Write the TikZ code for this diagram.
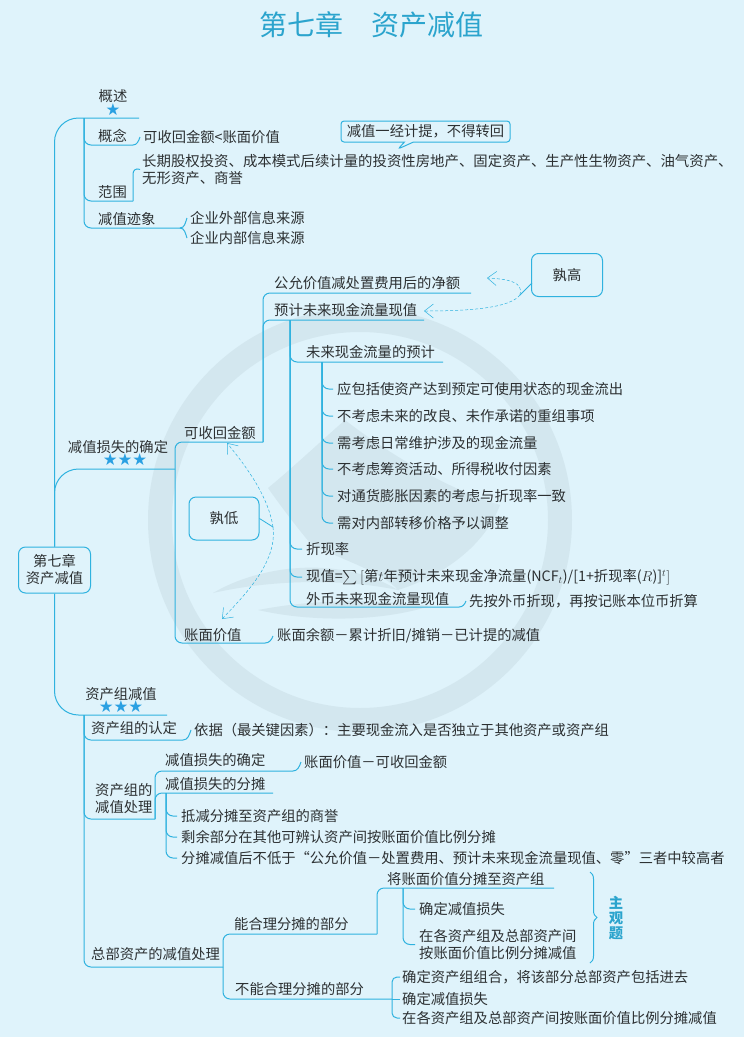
\documentclass[tikz,border=0pt]{standalone}
\usepackage{amssymb}
\usepackage{fontspec}
\setmainfont{Noto Sans CJK SC}
\newfontfamily\starfont{DejaVu Sans}
\usetikzlibrary{arrows.meta,shapes.callouts,decorations.pathreplacing}
\definecolor{bgblue}{HTML}{DFF3FB}
\definecolor{markblue}{HTML}{D3E7EF}
\definecolor{railblue}{HTML}{2FB2DF}
\definecolor{inkgray}{HTML}{2C3032}
\tikzset{
  txt/.style={anchor=west,inner sep=1pt,text=inkgray,font=\fontsize{14.3}{17}\selectfont,align=left},
  stars/.style={inner sep=0pt,text=railblue!90!blue,font=\starfont\fontsize{16.5}{17}\selectfont},
  rail/.style={draw=railblue,line width=1pt},
  railbend/.style={rail,rounded corners=7pt},
  mainbend/.style={rail,rounded corners=24pt},
  box/.style={draw=railblue,line width=1pt,rounded corners=7pt,fill=bgblue,inner sep=0pt,text=inkgray,
    font=\fontsize{14.3}{17}\selectfont,align=center},
  hint/.style={draw=railblue,line width=0.5pt,densely dashed,-{Straight Barb[length=9pt,width=14pt]}}
}
\begin{document}
\begin{tikzpicture}[x=1pt,y=-1pt]
\useasboundingbox (0,0) rectangle (744,1037);
\fill[bgblue] (0,0) rectangle (744,1037);
% watermark
\draw[markblue,line width=24pt] (360,520) circle (200);
\fill[markblue] (268,488) .. controls (290,470) and (320,442) .. (345,420) .. controls (390,455) and (450,490) .. (500,505)
  .. controls (485,545) and (445,575) .. (398,590) .. controls (380,570) and (340,560) .. (310,543) .. controls (295,525) and (280,505) .. (268,488);
\fill[markblue] (213,593) .. controls (260,565) and (340,555) .. (398,590) .. controls (340,578) and (270,580) .. (213,593);
\fill[markblue] (258,610) .. controls (320,598) and (380,600) .. (430,606) .. controls (380,622) and (310,622) .. (258,610);
% title
\node[inner sep=0pt,text=railblue!92!black,font=\fontsize{28}{32}\selectfont] (title) at (371,25) {第七章\hspace{1em}资产减值};
% root
\node[box,minimum width=72pt,minimum height=46pt] (root) at (54.5,570) {第七章\\资产减值};
% overview
\node[inner sep=0pt,text=inkgray,font=\fontsize{14.3}{17}\selectfont] (ovTxt) at (113,96) {概述};
\node[stars] (ovStar) at (113,110) {★};
\coordinate (ovEnd) at (139,118); \coordinate (ovStem) at (84,118);
\draw[mainbend] (root.north) |- (ovEnd);
\node[txt] (cptTxt) at (97,136) {概念};
\node[txt] (cptVal) at (142,137) {可收回金额<账面价值};
\coordinate (cptEnd) at (133,145);
\draw[railbend] (ovStem) |- (cptEnd); \draw[rail] (cptEnd) to[out=0,in=-110] ([xshift=-2pt]cptVal.west);
\node[rectangle callout,draw=railblue,line width=1pt,rounded corners=3pt,fill=bgblue,inner sep=0pt,text=inkgray,
  font=\fontsize{14.3}{17}\selectfont,minimum width=169pt,minimum height=21pt,
  callout absolute pointer={(398,149)},callout pointer width=9pt] (callNote) at (425.5,131.5) {减值一经计提，不得转回};
\node[txt] (scpTxt) at (97,192) {范围};
\node[txt,font=\fontsize{14.4}{17}\selectfont] (scpVal) at (141,169.5) {长期股权投资、成本模式后续计量的投资性房地产、固定资产、生产性生物资产、油气资产、\\无形资产、商誉};
\coordinate (scpEnd) at (133,201);
\draw[railbend] (ovStem) |- (scpEnd); \draw[railbend] (scpEnd) -- (133,167) -- ([xshift=-1pt]scpVal.west);
\node[txt] (signTxt) at (97,219) {减值迹象};
\node[txt] (signA) at (189,218) {企业外部信息来源};
\node[txt] (signB) at (189,238) {企业内部信息来源};
\coordinate (signEnd) at (180,228);
\draw[railbend] (ovStem) |- (signEnd); \draw[rail] (signEnd) to[out=0,in=-110] ([xshift=-2pt]signA.west); \draw[rail] (signEnd) to[out=0,in=110] ([xshift=-2pt]signB.west);
% loss
\node[inner sep=0pt,text=inkgray,font=\fontsize{14.3}{17}\selectfont] (lossTxt) at (118,447) {减值损失的确定};
\node[stars] (lossStar) at (125,460) {★★★};
\coordinate (lossEnd) at (175,469);
\draw[mainbend] (root.north) |- (lossEnd);
\node[txt] (recTxt) at (183,433) {可收回金额};
\node[txt] (bookTxt) at (183,635) {账面价值};
\node[txt] (bookVal) at (276,636) {账面余额－累计折旧/摊销－已计提的减值};
\coordinate (recEnd) at (263,442); \coordinate (bookEnd) at (265,643); \coordinate (lossStem) at (175,469);
\draw[railbend] (lossStem) |- (recEnd); \draw[railbend] (lossStem) |- (bookEnd); \draw[rail] (bookEnd) to[out=0,in=-110] ([xshift=-3pt]bookVal.west);
\node[txt] (netTxt) at (273,283) {公允价值减处置费用后的净额};
\node[txt] (pvTxt) at (273,310) {预计未来现金流量现值};
\coordinate (netEnd) at (471,293); \coordinate (pvEnd) at (424,320);
\draw[railbend] (recEnd) |- (netEnd); \draw[railbend] (recEnd) |- (pvEnd);
\coordinate (pvStem) at (290,320); \coordinate (flowEnd) at (443,362); \coordinate (flowStem) at (322,362);
\node[txt] (flowTxt) at (305,352) {未来现金流量的预计};
\draw[railbend] (pvStem) |- (flowEnd);
\node[txt] (flowA) at (336,389) {应包括使资产达到预定可使用状态的现金流出};
\node[txt] (flowB) at (336,416) {不考虑未来的改良、未作承诺的重组事项};
\node[txt] (flowC) at (336,443) {需考虑日常维护涉及的现金流量};
\node[txt] (flowD) at (336,469) {不考虑筹资活动、所得税收付因素};
\node[txt] (flowE) at (336,496) {对通货膨胀因素的考虑与折现率一致};
\node[txt] (flowF) at (336,523) {需对内部转移价格予以调整};
\foreach \n in {A,...,F} {\draw[railbend] (flowStem) |- ([xshift=-3pt]flow\n.west);}
\node[txt] (rateTxt) at (305,549) {折现率};
\node[txt] (pvEq) at (305,577) {现值=$\sum\big[$第$t$年预计未来现金净流量($\mathit{NCF}_t$)/[1+折现率($R$)]$^t\big]$};
\node[txt] (fxTxt) at (305,599) {外币未来现金流量现值};
\node[txt] (fxVal) at (468,601) {先按外币折现，再按记账本位币折算};
\coordinate (fxEnd) at (459,607);
\draw[railbend] (pvStem) |- ([xshift=-3pt]rateTxt.west); \draw[railbend] (pvStem) |- ([xshift=-3pt]pvEq.west); \draw[railbend] (pvStem) |- (fxEnd);
\draw[rail] (fxEnd) to[out=0,in=-110] ([xshift=-2pt]fxVal.west);
% which is higher or lower
\node[box,minimum width=71pt,minimum height=43pt] (gaoBox) at (567,275) {孰高};
\coordinate (gaoNeck) at (532,283); \coordinate (gaoJoint) at (520,295);
\coordinate (gaoTipA) at (487,278); \coordinate (gaoTipB) at (424,311);
\draw[railblue,line width=0.8pt] (gaoNeck) -- (gaoJoint);
\draw[hint] (gaoJoint) .. controls (524,282) and (508,279) .. (gaoTipA);
\draw[hint] (gaoJoint) .. controls (510,308) and (470,311) .. (gaoTipB);
\node[box,minimum width=70pt,minimum height=43pt] (diBox) at (224,518.5) {孰低};
\coordinate (diJoint) at (273,527); \coordinate (diTipA) at (227,443); \coordinate (diTipB) at (222,619);
\draw[railblue,line width=0.8pt] (diBox.east) -- (diJoint);
\draw[hint] (diJoint) .. controls (268,495) and (245,465) .. (diTipA);
\draw[hint] (diJoint) .. controls (277,560) and (250,590) .. (diTipB);
% asset group
\node[inner sep=0pt,text=inkgray,font=\fontsize{14.3}{17}\selectfont] (grpTxt) at (121,694) {资产组减值};
\node[stars] (grpStar) at (121,707) {★★★};
\coordinate (grpEnd) at (167,715); \coordinate (grpStem) at (84,715);
\draw[mainbend] (root.south) |- (grpEnd);
\node[txt] (idTxt) at (90,728) {资产组的认定};
\node[txt] (idVal) at (193,730) {依据（最关键因素）：主要现金流入是否独立于其他资产或资产组};
\coordinate (idEnd) at (183,740);
\draw[railbend] (grpStem) |- (idEnd); \draw[rail] (idEnd) to[out=0,in=-110] ([xshift=-2pt]idVal.west);
\node[txt] (dealTxt) at (94,799) {资产组的\\减值处理};
\coordinate (dealEnd) at (155,819);
\draw[railbend] (grpStem) |- (dealEnd);
\node[txt] (fixTxt) at (164,760) {减值损失的确定};
\node[txt] (fixVal) at (303,762) {账面价值－可收回金额};
\node[txt] (splitTxt) at (164,784) {减值损失的分摊};
\coordinate (fixEnd) at (293,771); \coordinate (splitEnd) at (273,793); \coordinate (splitStem) at (166,793);
\draw[railbend] (dealEnd) |- (fixEnd); \draw[railbend] (dealEnd) |- (splitEnd); \draw[rail] (fixEnd) to[out=0,in=-110] ([xshift=-2pt]fixVal.west);
\node[txt] (splitA) at (180,816) {抵减分摊至资产组的商誉};
\node[txt] (splitB) at (180,837) {剩余部分在其他可辨认资产间按账面价值比例分摊};
\node[txt] (splitC) at (180,858) {分摊减值后不低于“公允价值－处置费用、预计未来现金流量现值、零”三者中较高者};
\foreach \n in {A,B,C} {\draw[railbend] (splitStem) |- ([xshift=-3pt]split\n.west);}
% head office
\node[txt] (hqTxt) at (90,954) {总部资产的减值处理};
\coordinate (hqEnd) at (223,967);
\draw[railbend] (grpStem) |- (hqEnd);
\node[txt] (canTxt) at (233,924) {能合理分摊的部分};
\node[txt] (noTxt) at (234,989) {不能合理分摊的部分};
\coordinate (canEnd) at (377,934); \coordinate (noEnd) at (392,999);
\draw[railbend] (hqEnd) |- (canEnd); \draw[railbend] (hqEnd) |- (noEnd);
\node[txt] (allocTxt) at (386,879) {将账面价值分摊至资产组};
\coordinate (allocEnd) at (554,888); \coordinate (allocStem) at (403,888);
\draw[railbend] (canEnd) |- (allocEnd);
\node[txt] (allocA) at (418,909) {确定减值损失};
\node[txt] (allocB) at (418,944.5) {在各资产组及总部资产间\\按账面价值比例分摊减值};
\draw[railbend] (allocStem) |- ([xshift=-3pt]allocA.west); \draw[railbend] (allocStem) |- ([xshift=-3pt]allocB.west);
\coordinate (braceTop) at (590,872); \coordinate (braceEnd) at (590,963);
\draw[rail,decorate,decoration={brace,amplitude=7pt}] (braceTop) -- (braceEnd);
\node[inner sep=0pt,text=railblue!92!black,font=\bfseries\fontsize{14.3}{15}\selectfont,align=center] (subjTxt) at (616,918) {主\\观\\题};
\node[txt] (noA) at (401,977) {确定资产组组合，将该部分总部资产包括进去};
\node[txt] (noB) at (401,999) {确定减值损失};
\node[txt] (noC) at (401,1018) {在各资产组及总部资产间按账面价值比例分摊减值};
\draw[railbend,rounded corners=5pt] (noEnd) |- ([xshift=-1pt]noA.west); \draw[railbend,rounded corners=5pt] (noEnd) |- ([xshift=-1pt]noC.west); \draw[rail] (noEnd) -- ([xshift=-1pt]noB.west);
\end{tikzpicture}
\end{document}
